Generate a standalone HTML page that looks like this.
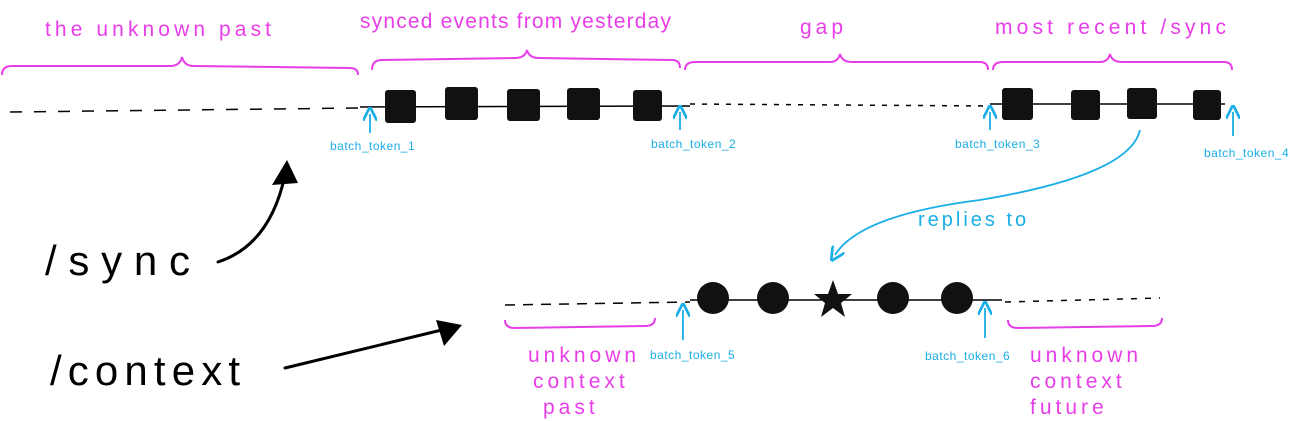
<!DOCTYPE html>
<html><head><meta charset="utf-8"><style>
html,body{margin:0;padding:0;background:#fff;width:1294px;height:421px;overflow:hidden}
svg{display:block}
.m{fill:#e83ee8;font-family:"Liberation Sans",sans-serif;font-size:21px;letter-spacing:4px}
.b{fill:#1aaee6;font-family:"Liberation Sans",sans-serif;font-size:12px;letter-spacing:0.5px}
.r{fill:#1aaee6;font-family:"Liberation Sans",sans-serif;font-size:20px;letter-spacing:3px}
.k{fill:#000;font-family:"Liberation Sans",sans-serif;font-size:42px}
</style></head><body>
<svg width="1294" height="421" viewBox="0 0 1294 421" xmlns="http://www.w3.org/2000/svg">
<defs>
<marker id="ab" markerWidth="8" markerHeight="8" refX="4" refY="4" orient="auto"><path d="M0,0 L8,4 L0,8" fill="none" stroke="#1aaee6" stroke-width="1.5"/></marker>
</defs>
<text class="m" x="45" y="36" textLength="230">the unknown past</text>
<text class="m" x="360" y="28" textLength="315">synced events from yesterday</text>
<text class="m" x="800" y="34">gap</text>
<text class="m" x="995" y="34" textLength="235">most recent /sync</text>
<g fill="none" stroke="#e83ee8" stroke-width="2">
<path d="M2,75 Q2,66 12,66 L170,66 Q180,66 182,57 Q184,66 194,66 L350,68 Q358,68 358,75"/>
<path d="M372,70 Q372,60 382,60 L515,58 Q525,58 527,50 Q529,58 539,58 L672,60 Q680,60 680,68"/>
<path d="M685,70 Q685,62 695,62 L830,62 Q838,62 840,54 Q842,62 852,62 L980,62 Q988,62 988,70"/>
<path d="M993,70 Q993,62 1003,62 L1100,62 Q1108,62 1110,54 Q1112,62 1122,62 L1224,62 Q1232,62 1232,70"/>
<path d="M505,320 Q505,328 515,328 L645,326 Q655,326 655,318"/>
<path d="M1008,320 Q1008,328 1018,328 L1152,326 Q1162,326 1162,318"/>
</g>
<line x1="10" y1="112" x2="360" y2="108" stroke="#000" stroke-width="1.5" stroke-dasharray="12,12"/>
<line x1="360" y1="107" x2="690" y2="106" stroke="#000" stroke-width="1.5"/>
<line x1="690" y1="104" x2="990" y2="106" stroke="#000" stroke-width="1.5" stroke-dasharray="5,7"/>
<line x1="990" y1="104" x2="1225" y2="104" stroke="#000" stroke-width="1.5"/>
<g fill="#111">
<rect x="385" y="90" width="31" height="33" rx="3"/>
<rect x="445" y="87" width="33" height="33" rx="3"/>
<rect x="507" y="89" width="33" height="32" rx="3"/>
<rect x="567" y="88" width="33" height="32" rx="3"/>
<rect x="633" y="90" width="29" height="31" rx="3"/>
<rect x="1002" y="88" width="31" height="32" rx="3"/>
<rect x="1071" y="90" width="29" height="30" rx="3"/>
<rect x="1127" y="88" width="30" height="31" rx="3"/>
<rect x="1193" y="90" width="28" height="30" rx="3"/>
</g>
<g stroke="#1aaee6" stroke-width="1.8" fill="none" marker-end="url(#ab)">
<line x1="370" y1="133" x2="370" y2="114"/>
<line x1="680" y1="130" x2="680" y2="112"/>
<line x1="990" y1="130" x2="990" y2="112"/>
<line x1="1233" y1="136" x2="1233" y2="112"/>
<line x1="683" y1="340" x2="683" y2="310"/>
<line x1="985" y1="338" x2="985" y2="308"/>
<path d="M1140,130 Q1130,175 980,200 Q860,215 835,255"/>
</g>
<text class="b" x="330" y="150">batch_token_1</text>
<text class="b" x="651" y="148">batch_token_2</text>
<text class="b" x="955" y="148">batch_token_3</text>
<text class="b" x="1204" y="157">batch_token_4</text>
<text class="b" x="650" y="359">batch_token_5</text>
<text class="b" x="925" y="360">batch_token_6</text>
<text class="r" x="918" y="226">replies to</text>
<line x1="505" y1="305" x2="690" y2="302" stroke="#000" stroke-width="1.5" stroke-dasharray="10,8"/>
<line x1="690" y1="300" x2="1002" y2="300" stroke="#000" stroke-width="1.5"/>
<line x1="1005" y1="302" x2="1160" y2="298" stroke="#000" stroke-width="1.5" stroke-dasharray="6,8"/>
<g fill="#111">
<circle cx="713" cy="298" r="16"/>
<circle cx="773" cy="298" r="16"/>
<circle cx="893" cy="298" r="16"/>
<circle cx="957" cy="298" r="16"/>
<polygon points="833,280 838,294 852,294 841,303 845,317 833,308 821,317 825,303 814,294 828,294"/>
</g>
<text class="m" x="528" y="362">unknown</text>
<text class="m" x="533" y="388">context</text>
<text class="m" x="543" y="414">past</text>
<text class="m" x="1030" y="362">unknown</text>
<text class="m" x="1030" y="388">context</text>
<text class="m" x="1030" y="414">future</text>
<text class="k" x="45" y="275" textLength="145">/sync</text>
<text class="k" x="50" y="385" textLength="190">/context</text>
<g stroke="#000" stroke-width="3" fill="none" stroke-linecap="round">
<path d="M218,262 Q270,245 285,175"/>
<path d="M285,368 Q380,345 450,328"/>
</g>
<polygon points="287,160 272,185 298,183" fill="#000"/>
<polygon points="462,325 436,320 444,346" fill="#000"/>
</svg>
</body></html>
